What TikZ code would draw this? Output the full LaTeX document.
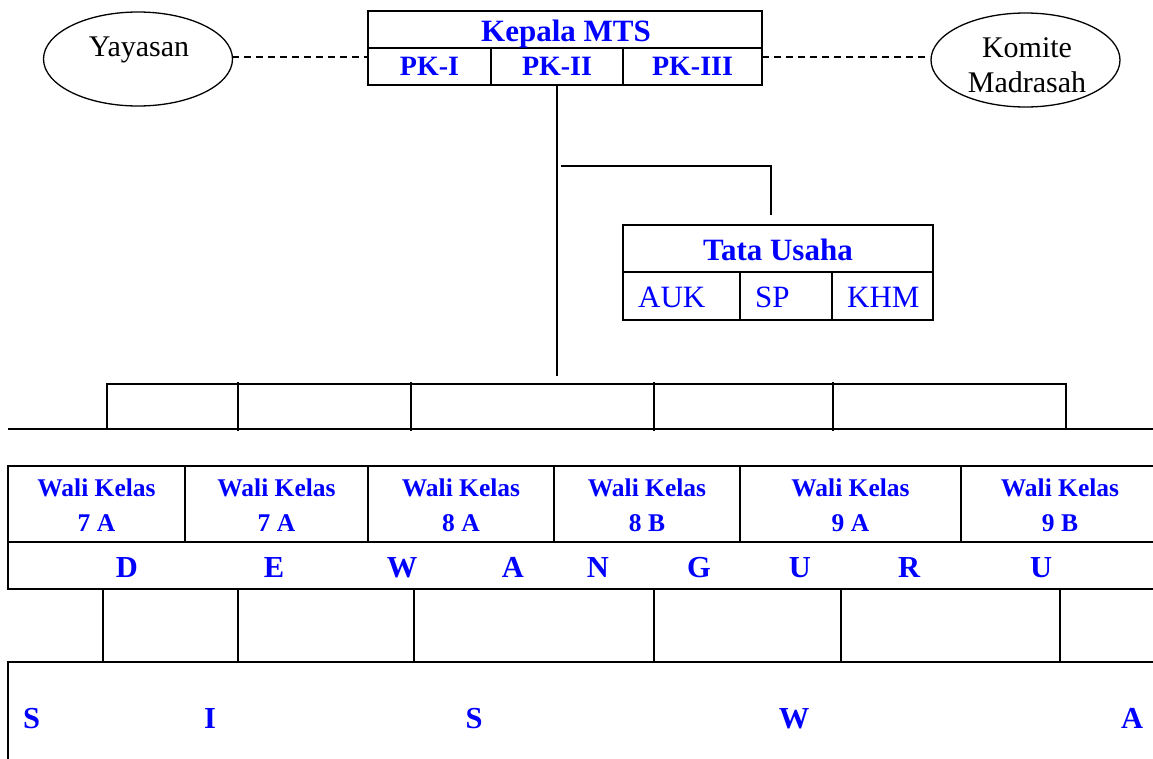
\documentclass[tikz,border=0pt]{standalone}
\usepackage{fontspec}
\setmainfont{Liberation Serif}
\usetikzlibrary{shapes.geometric}
\definecolor{tblue}{RGB}{0,0,255}
\begin{document}
\begin{tikzpicture}[x=1pt,y=-1pt,
  cell/.style={draw, line width=1.6pt, rectangle, inner sep=0pt, outer sep=0pt, anchor=north west},
  oval/.style={draw, ellipse, line width=1.3pt, inner sep=0pt, minimum width=189pt, minimum height=94pt},
  conn/.style={line width=1.5pt},
  thinconn/.style={line width=1.3pt},
  dashline/.style={line width=1.4pt, dash pattern=on 7pt off 5pt},
  headtxt/.style={text=tblue, font=\bfseries\fontsize{31}{31}\selectfont, anchor=base, inner sep=0pt},
  pktxt/.style={text=tblue, font=\bfseries\fontsize{28}{28}\selectfont, anchor=base, inner sep=0pt},
  walitxt/.style={text=tblue, font=\bfseries\fontsize{25.5}{25.5}\selectfont, anchor=base, inner sep=0pt},
  lettxt/.style={text=tblue, font=\bfseries\fontsize{30.5}{30.5}\selectfont, anchor=base, inner sep=0pt},
  tutxt/.style={text=tblue, font=\fontsize{31}{31}\selectfont, anchor=base west, inner sep=0pt},
  blacktxt/.style={text=black, font=\fontsize{30}{30}\selectfont, anchor=base, inner sep=0pt}
]
\useasboundingbox (0,0) rectangle (1153,758);
\clip (0,0) rectangle (1153,758);
\fill[white] (0,0) rectangle (1153,758);

% Kepala MTS box
\node[cell, minimum width=394pt, minimum height=37pt] (kep) at (368,11) {};
\node[cell, minimum width=123pt, minimum height=37pt] (pk1) at (368,48) {};
\node[cell, minimum width=132pt, minimum height=37pt] (pk2) at (491,48) {};
\node[cell, minimum width=139pt, minimum height=37pt] (pk3) at (623,48) {};
\node[headtxt] (tkep) at (566,41) {Kepala MTS};
\node[pktxt] (tpk1) at (429.5,75) {PK-I};
\node[pktxt] (tpk2) at (557,75) {PK-II};
\node[pktxt] (tpk3) at (692.5,75) {PK-III};

% ellipses
\node[oval] (yay) at (138,59) {};
\node[blacktxt] (tyay) at (139,56) {Yayasan};
\node[oval] (kom) at (1025.5,60) {};
\node[blacktxt] (tkom1) at (1027,57) {Komite};
\node[blacktxt] (tkom2) at (1027,92) {Madrasah};

% dashed links
\coordinate (yd) at (232,57);
\coordinate (kdl) at (368,57);
\coordinate (kdr) at (762,57);
\coordinate (kd) at (930,57);
\draw[dashline] (yd) -- (kdl);
\draw[dashline] (kdr) -- (kd);

% trunk
\coordinate (trunkend) at (557,376);
\draw[conn] (pk2.south) -- (trunkend);

% branch to Tata Usaha
\coordinate (br1) at (561,166);
\coordinate (br2) at (771,215);
\draw[conn] (br1) -| (br2);

% Tata Usaha box
\node[cell, minimum width=310pt, minimum height=47pt] (tu) at (623,225) {};
\node[cell, minimum width=117pt, minimum height=48pt] (auk) at (623,272) {};
\node[cell, minimum width=92pt, minimum height=48pt] (sp) at (740,272) {};
\node[cell, minimum width=101pt, minimum height=48pt] (khm) at (832,272) {};
\node[headtxt] (ttu) at (778,260) {Tata Usaha};
\node[tutxt] (tauk) at (638,307) {AUK};
\node[tutxt] (tsp) at (755,307) {SP};
\node[tutxt] (tkhm) at (847,307) {KHM};

% upper distribution bar
\coordinate (ua) at (107,384);
\coordinate (ub) at (1066,384);
\coordinate (la) at (107,430);
\coordinate (lb) at (1066,430);
\draw[thinconn] (la) -- (ua) -- (ub) -- (lb);
\foreach \xx/\nm in {238/u2,411/u3,654/u4,833/u5}{
  \coordinate (\nm t) at (\xx,382);
  \coordinate (\nm b) at (\xx,431);
  \draw[thinconn] (\nm t) -- (\nm b);
}
\coordinate (hl) at (8,429);
\coordinate (hr) at (1160,429);
\draw[conn] (hl) -- (hr);

% Wali Kelas row
\node[cell, minimum width=177pt, minimum height=76pt] (w1) at (8,466) {};
\node[cell, minimum width=183pt, minimum height=76pt] (w2) at (185,466) {};
\node[cell, minimum width=186pt, minimum height=76pt] (w3) at (368,466) {};
\node[cell, minimum width=186pt, minimum height=76pt] (w4) at (554,466) {};
\node[cell, minimum width=221pt, minimum height=76pt] (w5) at (740,466) {};
\node[cell, minimum width=198pt, minimum height=76pt] (w6) at (961,466) {};
\node[cell, minimum width=1151pt, minimum height=47pt] (dg) at (8,542) {};
\foreach \xx/\cls/\nm in {96.5/7 A/a,276.5/7 A/b,461/8 A/c,647/8 B/d,850.5/9 A/e,1060/9 B/f}{
  \node[walitxt] (wl\nm) at (\xx,496) {Wali Kelas};
  \node[walitxt] (wc\nm) at (\xx,531) {\cls};
}
\foreach \xx/\ch/\nm in {127/D/1,274/E/2,402/W/3,513/A/4,598/N/5,699/G/6,800/U/7,909/R/8,1041/U/9}{
  \node[lettxt] (dl\nm) at (\xx,577) {\ch};
}

% lower connectors
\node[cell, minimum width=1170pt, minimum height=130pt] (sw) at (8,662) {};
\foreach \xx/\nm in {103/v1,238/v2,414/v3,654/v4,841/v5,1060/v6}{
  \coordinate (\nm t) at (\xx,589);
  \coordinate (\nm b) at (\xx,662);
  \draw[thinconn] (\nm t) -- (\nm b);
}
\foreach \xx/\ch/\nm in {31.5/S/1,210/I/2,474/S/3,794/W/4,1132/A/5}{
  \node[lettxt] (sl\nm) at (\xx,728) {\ch};
}
\end{tikzpicture}
\end{document}
